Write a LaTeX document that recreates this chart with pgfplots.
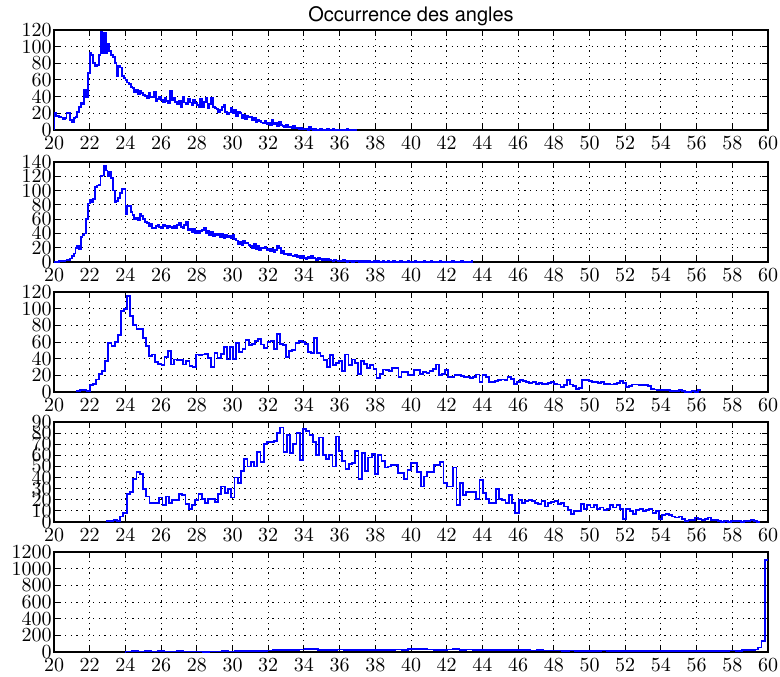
\documentclass[border=0pt]{standalone}
\usepackage{fontspec}
\usepackage{pgfplots}
\pgfplotsset{compat=1.18}
\newfontfamily\helv{TeX Gyre Heros}
\pgfplotsset{
  histax/.style={
    width=357pt, height=50pt, scale only axis, anchor=south west,
    xmin=20, xmax=60, xtick={20,22,...,60}, ymin=0,
    tick align=inside, major tick length=3pt,
    grid=major,
    major grid style={black, line width=0.5pt, dash pattern=on 0.6pt off 2.2pt},
    axis line style={line width=0.8pt},
    every tick/.style={black, line width=0.5pt},
    /pgf/number format/1000 sep={}, scaled y ticks=false,
    yticklabel style={inner xsep=1pt},
  },
  stepline/.style={const plot mark right, color={rgb,1:red,0;green,0;blue,1}, line width=0.9pt, no markers},
}
\begin{document}
\begin{tikzpicture}
% ---------- panel 1 ----------
\begin{axis}[histax, at={(27pt,273pt)}, ymax=120, ytick={0,20,...,120},
  title={\helv Occurrence des angles},
  every axis title/.style={at={(0.5,1)}, anchor=base, yshift=4pt}]
\addplot[stepline] table[row sep=\\, x expr=20+0.1*\coordindex, y=y]{
y\\0\\
20\\17\\17\\16\\15\\13\\14\\21\\20\\12\\
10\\14\\16\\22\\28\\32\\31\\48\\40\\68\\
92\\90\\80\\77\\78\\90\\118\\92\\117\\92\\
103\\95\\90\\88\\80\\65\\77\\75\\65\\62\\
60\\57\\55\\52\\50\\46\\48\\43\\47\\44\\
42\\41\\38\\44\\40\\39\\46\\35\\37\\40\\
36\\33\\38\\35\\32\\47\\36\\39\\34\\31\\
35\\28\\40\\33\\31\\37\\33\\30\\36\\32\\
30\\27\\37\\28\\34\\38\\26\\31\\39\\28\\
26\\25\\22\\24\\28\\30\\22\\19\\21\\26\\
20\\24\\17\\22\\20\\14\\18\\13\\17\\15\\
16\\12\\14\\10\\12\\11\\9\\8\\11\\7\\
9\\6\\12\\7\\8\\5\\10\\6\\5\\4\\
6\\3\\4\\2\\5\\2\\3\\1\\2\\1\\
1\\1\\0\\4\\1\\0\\1\\0\\0\\1\\
0\\0\\0\\1\\0\\0\\1\\0\\0\\0\\
0\\0\\0\\0\\1\\0\\0\\0\\0\\0\\
};
\end{axis}
% ---------- panel 2 ----------
\begin{axis}[histax, at={(27pt,207pt)}, ymax=140, ytick={0,20,...,140}]
\addplot[stepline] table[row sep=\\, x expr=20+0.1*\coordindex, y=y]{
y\\0\\
0\\0\\0\\1\\1\\1\\2\\3\\2\\5\\
8\\12\\20\\22\\18\\35\\38\\40\\60\\82\\
87\\84\\88\\105\\107\\108\\120\\121\\135\\128\\
120\\126\\118\\100\\84\\85\\90\\97\\102\\103\\
67\\79\\78\\70\\66\\60\\62\\58\\67\\64\\
60\\56\\55\\50\\53\\48\\47\\50\\52\\49\\
48\\52\\50\\47\\51\\49\\48\\50\\48\\52\\
55\\49\\47\\52\\56\\44\\46\\42\\47\\40\\
44\\41\\43\\45\\48\\41\\44\\38\\42\\36\\
40\\37\\39\\35\\40\\33\\38\\35\\37\\33\\
38\\32\\30\\25\\28\\24\\30\\26\\27\\24\\
22\\20\\25\\18\\22\\17\\20\\19\\21\\16\\
18\\15\\19\\14\\17\\22\\20\\12\\15\\11\\
12\\10\\11\\9\\8\\10\\7\\9\\6\\8\\
6\\4\\7\\5\\8\\6\\5\\3\\6\\4\\
3\\4\\2\\5\\3\\2\\1\\3\\2\\1\\
2\\1\\3\\1\\0\\2\\1\\0\\1\\2\\
1\\0\\1\\0\\2\\0\\1\\0\\0\\1\\
0\\1\\0\\0\\1\\0\\0\\1\\0\\0\\
1\\0\\0\\0\\1\\0\\0\\0\\1\\0\\
0\\0\\1\\0\\0\\0\\0\\1\\0\\0\\
0\\1\\0\\0\\0\\0\\1\\0\\0\\0\\
0\\0\\0\\1\\0\\0\\0\\0\\1\\0\\
0\\0\\0\\0\\1\\
};
\end{axis}
% ---------- panel 3 ----------
\begin{axis}[histax, at={(27pt,142pt)}, ymax=120, ytick={0,20,...,120}]
\addplot[stepline] table[row sep=\\, x expr=21.3+0.1747*\coordindex, y=y]{
y\\0\\
1\\2\\2\\1\\8\\10\\15\\22\\25\\37\\
59\\55\\60\\68\\97\\100\\115\\91\\80\\76\\
76\\65\\55\\43\\45\\36\\34\\32\\42\\49\\
33\\39\\38\\38\\33\\37\\31\\30\\45\\44\\
45\\46\\41\\30\\47\\41\\46\\54\\39\\54\\
40\\59\\48\\52\\62\\56\\58\\61\\64\\57\\
53\\60\\61\\52\\70\\58\\56\\42\\49\\50\\
59\\61\\60\\58\\48\\47\\65\\47\\43\\38\\
30\\44\\32\\35\\37\\25\\45\\32\\39\\35\\
22\\37\\34\\29\\32\\28\\17\\22\\27\\26\\
25\\29\\29\\18\\24\\24\\20\\20\\26\\26\\
22\\24\\23\\25\\28\\33\\20\\22\\26\\18\\
18\\20\\20\\19\\18\\18\\17\\18\\21\\12\\
20\\18\\12\\12\\13\\14\\15\\14\\18\\16\\
10\\12\\14\\13\\12\\11\\12\\10\\11\\10\\
10\\11\\12\\10\\9\\6\\8\\14\\9\\7\\
4\\5\\14\\14\\13\\12\\12\\11\\12\\10\\
10\\9\\10\\11\\13\\11\\6\\7\\9\\9\\
8\\8\\8\\7\\4\\3\\2\\2\\2\\2\\
1\\1\\1\\2\\1\\0\\0\\1\\0\\2\\
};
\end{axis}
% ---------- panel 4 ----------
\begin{axis}[histax, at={(27pt,77pt)}, ymax=90, ytick={0,10,...,90}]
\addplot[stepline] table[row sep=\\, x expr=22.97+0.183*\coordindex, y=y]{
y\\0\\
1\\1\\2\\1\\5\\8\\25\\27\\39\\45\\
43\\30\\23\\17\\17\\17\\22\\15\\23\\17\\
20\\20\\25\\24\\16\\12\\15\\20\\25\\21\\
17\\21\\21\\18\\25\\32\\26\\30\\22\\40\\
35\\46\\57\\50\\54\\50\\63\\54\\70\\72\\
72\\73\\80\\85\\63\\78\\62\\70\\80\\56\\
84\\82\\78\\72\\60\\76\\60\\57\\60\\50\\
77\\64\\55\\48\\52\\53\\64\\39\\62\\46\\
58\\61\\43\\60\\55\\49\\50\\51\\51\\44\\
44\\39\\47\\53\\53\\45\\32\\41\\45\\45\\
51\\51\\54\\35\\32\\32\\49\\15\\35\\24\\
27\\27\\27\\21\\38\\26\\21\\17\\17\\30\\
21\\20\\17\\24\\17\\8\\20\\17\\19\\20\\
19\\17\\16\\19\\14\\17\\18\\19\\16\\17\\
14\\11\\7\\10\\10\\16\\12\\15\\13\\15\\
12\\13\\11\\12\\15\\13\\15\\12\\3\\12\\
10\\7\\11\\12\\10\\11\\12\\8\\10\\3\\
6\\7\\6\\5\\4\\5\\3\\1\\2\\2\\
4\\3\\2\\3\\4\\2\\2\\1\\0\\1\\
0\\1\\1\\1\\0\\1\\1\\2\\1\\0\\
};
\end{axis}
% ---------- panel 5 ----------
\begin{axis}[histax, at={(27pt,12pt)}, ymax=1200, ytick={0,200,...,1200}]
\addplot[stepline] table[row sep=\\, x expr=24+0.36*\coordindex, y=y]{
y\\0\\
6\\8\\7\\9\\6\\8\\7\\5\\8\\6\\
5\\6\\4\\6\\5\\8\\7\\10\\9\\12\\
11\\14\\18\\22\\26\\28\\25\\30\\40\\35\\
28\\22\\26\\30\\24\\28\\25\\27\\24\\26\\
28\\25\\30\\27\\33\\36\\32\\30\\28\\27\\
30\\38\\28\\30\\26\\28\\24\\27\\23\\25\\
22\\20\\24\\18\\20\\17\\19\\18\\16\\17\\
15\\16\\14\\15\\17\\14\\15\\13\\15\\14\\
12\\14\\11\\13\\12\\10\\12\\11\\13\\10\\
11\\12\\10\\14\\18\\16\\26\\24\\
};
\addplot[stepline] coordinates {(59.28,24) (59.46,30) (59.64,55) (59.82,135) (60,1100)};
\end{axis}
\pgfresetboundingbox
\path[use as bounding box] (0,0) rectangle (390pt,338pt);
\end{tikzpicture}
\end{document}
